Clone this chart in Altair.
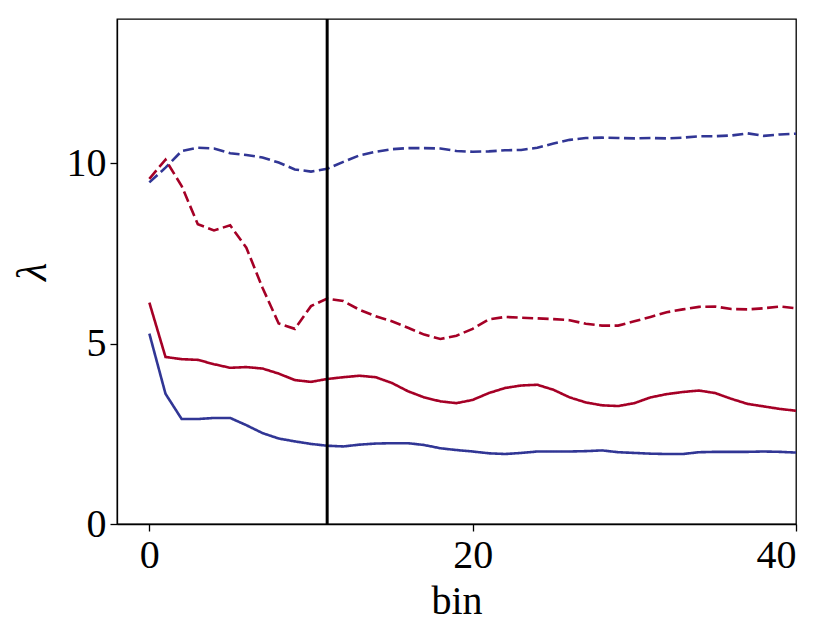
import altair as alt
import pandas as pd

bins = list(range(41))

blue_dashed = [9.47, 9.88, 10.34, 10.43, 10.41, 10.28, 10.23, 10.16, 10.02, 9.83,
               9.77, 9.85, 10.04, 10.22, 10.32, 10.39, 10.42, 10.42, 10.41, 10.34,
               10.32, 10.33, 10.36, 10.37, 10.43, 10.55, 10.65, 10.70, 10.71, 10.70,
               10.69, 10.70, 10.69, 10.71, 10.75, 10.75, 10.77, 10.83, 10.76, 10.80,
               10.82]
red_dashed = [9.57, 10.10, 9.37, 8.31, 8.14, 8.28, 7.66, 6.55, 5.56, 5.41,
              6.04, 6.25, 6.18, 5.94, 5.76, 5.62, 5.44, 5.25, 5.13, 5.22,
              5.41, 5.67, 5.74, 5.72, 5.70, 5.68, 5.65, 5.55, 5.50, 5.50,
              5.62, 5.74, 5.87, 5.95, 6.02, 6.03, 5.96, 5.95, 5.98, 6.03,
              5.98]
red_solid = [6.14, 4.63, 4.57, 4.55, 4.43, 4.33, 4.35, 4.31, 4.17, 3.99,
             3.94, 4.02, 4.07, 4.11, 4.07, 3.91, 3.68, 3.51, 3.40, 3.35,
             3.44, 3.63, 3.77, 3.84, 3.86, 3.72, 3.51, 3.37, 3.29, 3.27,
             3.35, 3.51, 3.60, 3.66, 3.70, 3.63, 3.47, 3.33, 3.26, 3.19,
             3.14]
blue_solid = [5.28, 3.61, 2.91, 2.91, 2.94, 2.94, 2.74, 2.52, 2.37, 2.29,
              2.22, 2.17, 2.15, 2.20, 2.23, 2.24, 2.24, 2.19, 2.10, 2.05,
              2.01, 1.96, 1.94, 1.97, 2.01, 2.01, 2.01, 2.02, 2.04, 1.99,
              1.97, 1.95, 1.94, 1.94, 1.99, 2.00, 2.00, 2.00, 2.01, 2.00,
              1.98]

series = [
    ("blue_dashed", "blue", "dashed", blue_dashed),
    ("red_dashed", "red", "dashed", red_dashed),
    ("red_solid", "red", "solid", red_solid),
    ("blue_solid", "blue", "solid", blue_solid),
]
rows = []
for name, col, style, vals in series:
    for b, v in zip(bins, vals):
        rows.append({"bin": b, "lam": v, "series": name, "col": col, "style": style})
df = pd.DataFrame(rows)

vline_x = [11]

FONT = "Liberation Serif"

xscale = alt.Scale(domain=[-2, 40], nice=False, zero=False)
yscale = alt.Scale(domain=[0, 14], nice=False)

lines = alt.Chart(df).mark_line(strokeWidth=2.6).encode(
    x=alt.X("bin:Q", scale=xscale,
            axis=alt.Axis(title="bin", values=[0, 20, 40], grid=False)),
    y=alt.Y("lam:Q", scale=yscale,
            axis=alt.Axis(title="λ", values=[0, 5, 10], grid=False)),
    color=alt.Color("col:N", scale=alt.Scale(domain=["blue", "red"],
                                             range=["#313695", "#a50026"]), legend=None),
    strokeDash=alt.StrokeDash("style:N", scale=alt.Scale(domain=["solid", "dashed"],
                                                         range=[[1, 0], [11, 4.5]]), legend=None),
    detail="series:N",
)

vline = alt.Chart(pd.DataFrame({"bin": vline_x})).mark_rule(
    color="black", strokeWidth=3
).encode(x=alt.X("bin:Q", scale=xscale))

chart = alt.layer(lines, vline).properties(
    width=679, height=505,
    autosize=alt.AutoSizeParams(type="none"),
    padding={"left": 109, "top": 11, "right": 26, "bottom": 108},
).configure_view(
    stroke="black", strokeWidth=1.3
).configure_axis(
    labelFont=FONT, titleFont=FONT,
    labelFontSize=40, titleFontSize=40,
    labelColor="black", titleColor="black",
    titleFontWeight="normal",
    domainColor="black", tickColor="black",
    domainWidth=1.3, tickWidth=1.3, tickSize=7,
    labelPadding=4,
).configure_axisX(
    titlePadding=6,
).configure_axisY(
    titlePadding=12, titleFontStyle="italic", titleFontSize=42,
)

chart.save("out.html", embed_options={"renderer": "svg", "actions": False})
